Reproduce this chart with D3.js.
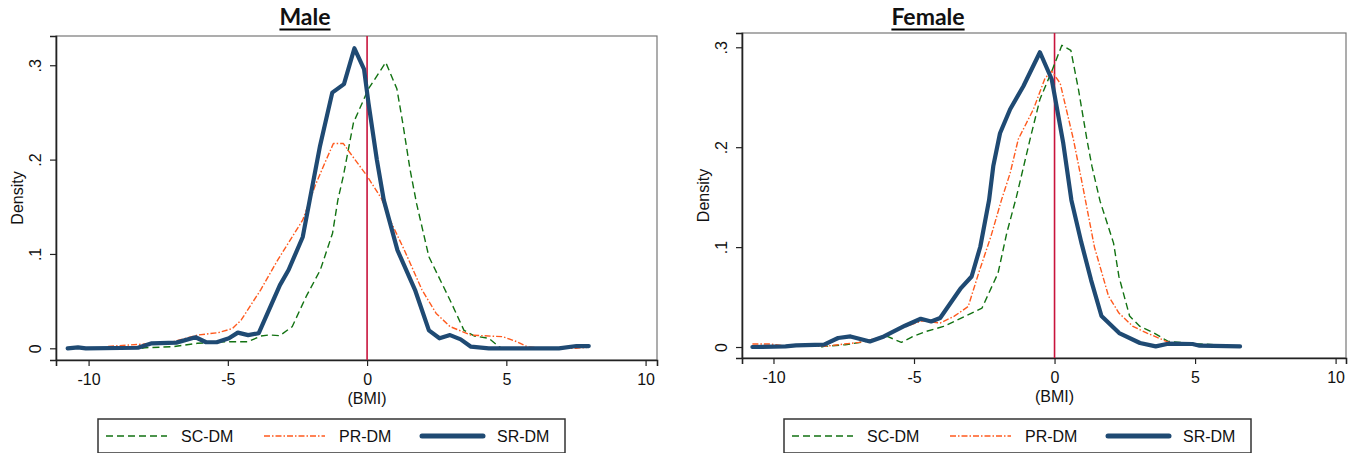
<!DOCTYPE html>
<html>
<head>
<meta charset="utf-8">
<script src="https://cdn.jsdelivr.net/npm/d3@7"></script>
<style>
  html, body { margin: 0; padding: 0; background: #fff; }
  svg text { font-family: "Liberation Sans", Arial, sans-serif; fill: #111; }
</style>
</head>
<body>
<svg id="chart" width="1357" height="453"></svg>
<script>
// ---------- DATA ----------
const xTicks = [-10, -5, 0, 5, 10];
const yTicks = [0, 0.1, 0.2, 0.3];
const yTickLabels = ["0", ".1", ".2", ".3"];
const seriesNames = ["SC-DM", "PR-DM", "SR-DM"];
const panelTitles = ["Male", "Female"];
const xAxisTitle = "(BMI)";
const yAxisTitle = "Density";

// Male — [BMI change, density]
const maleSC = [[-8.1,0],[-7.98,0.0006],[-6.97,0.0017],[-6.09,0.0053],[-5.08,0.007],[-4.27,0.007],[-3.82,0.013],[-3.51,0.0141],[-3.13,0.0134],[-2.69,0.0229],[-2.19,0.0547],[-1.68,0.083],[-1.24,0.122],[-1.05,0.157],[-0.85,0.183],[-0.49,0.239],[0.05,0.275],[0.67,0.303],[1.07,0.275],[1.28,0.239],[1.54,0.19],[1.78,0.153],[2.22,0.097],[2.98,0.051],[3.48,0.019],[3.86,0.013],[4.37,0.0106],[4.74,0.0017],[4.85,0]];
const malePR = [[-9.3,0.002],[-7.98,0.0046],[-6.97,0.007],[-6.09,0.014],[-5.34,0.0166],[-4.83,0.021],[-4.52,0.03],[-3.82,0.062],[-3.2,0.094],[-2.31,0.136],[-1.87,0.172],[-1.51,0.197],[-1.21,0.217],[-0.85,0.217],[-0.61,0.207],[-0.01,0.183],[0.53,0.158],[0.71,0.143],[1.34,0.104],[1.97,0.062],[2.48,0.037],[2.98,0.023],[3.73,0.014],[4.87,0.0123],[5.38,0.007],[5.75,0.0017],[6.25,0],[7.5,0],[7.9,0.001]];
const maleSR = [[-10.75,0],[-10.38,0.001],[-10.1,0],[-8.23,0.0006],[-7.73,0.0053],[-6.85,0.006],[-6.16,0.0117],[-5.78,0.0064],[-5.4,0.0064],[-4.96,0.0106],[-4.64,0.0166],[-4.27,0.014],[-3.89,0.016],[-3.13,0.067],[-2.82,0.083],[-2.31,0.118],[-2.06,0.157],[-1.69,0.2145],[-1.25,0.271],[-0.83,0.28],[-0.455,0.318],[-0.11,0.296],[0.05,0.26],[0.35,0.2],[0.6,0.157],[1.09,0.104],[1.72,0.062],[2.22,0.019],[2.6,0.0106],[2.98,0.014],[3.36,0.0095],[3.73,0.0017],[4.37,0],[6.89,0],[7.52,0.0024],[7.96,0.0024]];

// Female — [BMI change, density]
const femaleSC = [[-8.3,0],[-8.2,0.0006],[-7.45,0.0023],[-6.7,0.0056],[-5.95,0.0106],[-5.45,0.0046],[-5.08,0.01],[-4.57,0.0156],[-3.95,0.0206],[-3.2,0.0306],[-2.58,0.039],[-2.01,0.074],[-1.7,0.114],[-1.35,0.151],[-0.87,0.208],[-0.52,0.248],[-0.1,0.276],[0.26,0.302],[0.58,0.297],[0.85,0.258],[1.15,0.208],[1.33,0.181],[1.62,0.146],[2.1,0.104],[2.29,0.0706],[2.67,0.031],[3.04,0.0206],[3.54,0.014],[4.04,0.0056],[5.04,0.0033],[5.67,0.0023],[5.8,0.002]];
const femalePR = [[-10.75,0.003],[-10.1,0.003],[-9.5,0.0008],[-8.2,0.0006],[-7.7,0.0023],[-6.95,0.0046],[-6.07,0.0106],[-5.45,0.019],[-4.7,0.0263],[-4.07,0.024],[-3.58,0.0306],[-3.07,0.0406],[-2.7,0.074],[-2.26,0.111],[-1.89,0.147],[-1.58,0.174],[-1.29,0.208],[-0.75,0.238],[-0.34,0.269],[-0.1,0.276],[0.2,0.264],[0.67,0.208],[1.01,0.16],[1.42,0.1],[1.92,0.051],[2.29,0.034],[2.79,0.0206],[3.29,0.014],[3.98,0.0056],[4.5,0.002]];
const femaleSR = [[-10.75,0],[-9.57,0.0006],[-9.2,0.0016],[-8.2,0.0023],[-7.7,0.009],[-7.26,0.0106],[-6.57,0.0056],[-6.07,0.0106],[-5.32,0.0213],[-4.76,0.0283],[-4.39,0.0256],[-4.07,0.029],[-3.7,0.044],[-3.33,0.059],[-2.95,0.0706],[-2.64,0.1006],[-2.33,0.147],[-2.18,0.181],[-1.94,0.214],[-1.58,0.238],[-1.11,0.261],[-0.52,0.295],[-0.1,0.268],[0.31,0.204],[0.6,0.147],[0.95,0.105],[1.3,0.067],[1.67,0.031],[2.3,0.014],[3.04,0.004],[3.6,0.0006],[4.04,0.0033],[4.91,0.003],[5.16,0.0013],[6.6,0.0006]];

// ---------- STYLE / LAYOUT ----------
const seriesStyle = [
  { color: "#127212", width: 1.4, dash: "7,4" },
  { color: "#ff5a1e", width: 1.4, dash: "6,2,1.5,2" },
  { color: "#1f4a73", width: 4.2, dash: null }
];
const refColor = "#c8143c";
const fontStack = "'Liberation Sans', Arial, sans-serif";

const panels = [
  { title: panelTitles[0], titleX: 305, data: [maleSC, malePR, maleSR],
    left: 56, right: 657, top: 36, bottom: 360,
    xDomain: [-11.17, 10.41], yDomain: [-0.0124, 0.331], legendX: 98 },
  { title: panelTitles[1], titleX: 928, data: [femaleSC, femalePR, femaleSR],
    left: 742, right: 1346, top: 33, bottom: 358,
    xDomain: [-11.12, 10.37], yDomain: [-0.011, 0.3143], legendX: 784 }
];

const svg = d3.select("#chart");

panels.forEach(p => {
  const g = svg.append("g");
  const x = d3.scaleLinear().domain(p.xDomain).range([p.left, p.right]);
  const y = d3.scaleLinear().domain(p.yDomain).range([p.bottom, p.top]);

  // plot region outline (top/right)
  g.append("rect")
    .attr("x", p.left).attr("y", p.top)
    .attr("width", p.right - p.left).attr("height", p.bottom - p.top)
    .attr("fill", "none").attr("stroke", "#777").attr("stroke-width", 1.2);

  // x axis
  const xAxis = d3.axisBottom(x).tickValues(xTicks).tickSize(6).tickPadding(8)
    .tickFormat(d => d3.format("d")(d).replace("−", "-"));
  const gx = g.append("g").attr("transform", `translate(0,${p.bottom})`).call(xAxis);
  gx.attr("font-family", null);
  gx.select(".domain").attr("stroke", "#222").attr("stroke-width", 1.6);
  gx.selectAll(".tick line").attr("stroke", "#222").attr("stroke-width", 1.2);
  gx.selectAll(".tick text").attr("font-size", 16).attr("fill", "#111")
    .style("font-family", fontStack);

  // y axis
  const yAxis = d3.axisLeft(y).tickValues(yTicks).tickSize(6).tickPadding(0)
    .tickFormat((d, i) => yTickLabels[i]);
  const gy = g.append("g").attr("transform", `translate(${p.left},0)`).call(yAxis);
  gy.attr("font-family", null);
  gy.select(".domain").attr("stroke", "#222").attr("stroke-width", 1.6);
  gy.selectAll(".tick line").attr("stroke", "#222").attr("stroke-width", 1.2);
  gy.selectAll(".tick text")
    .attr("x", null).attr("dy", null)
    .attr("font-size", 16).attr("fill", "#111")
    .attr("text-anchor", "middle")
    .attr("dominant-baseline", "central")
    .attr("transform", "translate(-21,0) rotate(-90)")
    .style("font-family", fontStack);

  // axis titles
  g.append("text")
    .attr("transform", `translate(${p.left - 39},${(p.top + p.bottom) / 2}) rotate(-90)`)
    .attr("text-anchor", "middle").attr("dominant-baseline", "central")
    .attr("font-size", 16).style("font-family", fontStack).text(yAxisTitle);
  g.append("text")
    .attr("x", x(0)).attr("y", p.bottom + 38)
    .attr("text-anchor", "middle").attr("dominant-baseline", "central")
    .attr("font-size", 16).style("font-family", fontStack).text(xAxisTitle);

  // reference line at 0
  g.append("line")
    .attr("x1", x(0)).attr("x2", x(0))
    .attr("y1", p.top).attr("y2", p.bottom)
    .attr("stroke", refColor).attr("stroke-width", 1.6);

  // density curves
  const line = d3.line().x(d => x(d[0])).y(d => y(d[1]));
  p.data.forEach((ser, i) => {
    const s = seriesStyle[i];
    g.append("path").datum(ser)
      .attr("d", line)
      .attr("fill", "none")
      .attr("stroke", s.color)
      .attr("stroke-width", s.width)
      .attr("stroke-linejoin", "round")
      .attr("stroke-linecap", i === 2 ? "round" : "butt")
      .attr("stroke-dasharray", s.dash);
  });

  // title
  const t = g.append("text")
    .attr("x", p.titleX).attr("y", 25)
    .attr("text-anchor", "middle")
    .attr("font-size", 23).attr("font-weight", "bold")
    .style("font-family", "Lato, 'Liberation Sans', sans-serif")
    .text(p.title);
  const bb = t.node().getBBox();
  g.append("line")
    .attr("x1", bb.x).attr("x2", bb.x + bb.width)
    .attr("y1", 29.5).attr("y2", 29.5)
    .attr("stroke", "#000").attr("stroke-width", 2);

  // legend
  const lg = g.append("g").attr("transform", `translate(${p.legendX},419)`);
  lg.append("rect").attr("x", 0).attr("y", 0).attr("width", 467).attr("height", 34)
    .attr("fill", "#fff").attr("stroke", "#333").attr("stroke-width", 1.5);
  const itemX = [8, 166, 324];
  seriesNames.forEach((name, i) => {
    const s = seriesStyle[i];
    lg.append("line")
      .attr("x1", itemX[i]).attr("x2", itemX[i] + 61)
      .attr("y1", 17).attr("y2", 17)
      .attr("stroke", s.color)
      .attr("stroke-width", i === 2 ? 5 : s.width)
      .attr("stroke-linecap", i === 2 ? "round" : "butt")
      .attr("stroke-dasharray", s.dash);
    lg.append("text")
      .attr("x", itemX[i] + 75).attr("y", 17)
      .attr("dominant-baseline", "central")
      .attr("font-size", 16).style("font-family", fontStack).text(name);
  });
});
</script>
</body>
</html>
